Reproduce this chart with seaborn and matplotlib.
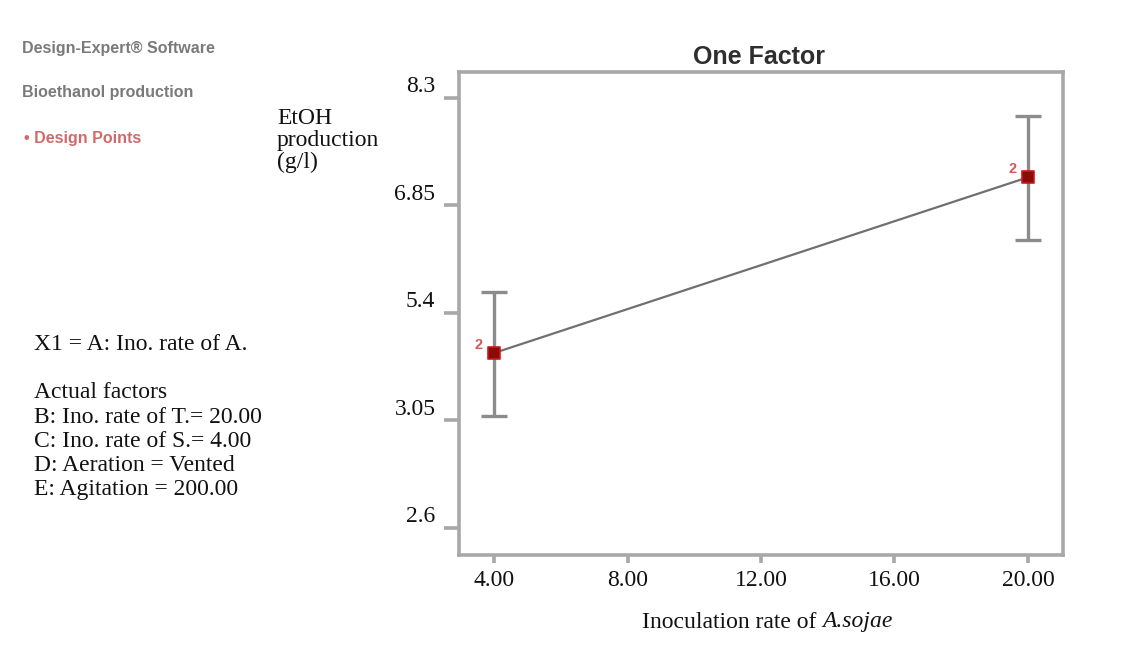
import matplotlib
matplotlib.use("Agg")
import matplotlib.pyplot as plt
import matplotlib.transforms as mtransforms
import seaborn as sns
import pandas as pd

# Inoculation rate of A. sojae and predicted EtOH production with LSD bars
rate = [4.0, 20.0]
etoh = [4.86, 7.23]
bar_low = [4.01, 6.38]
bar_high = [5.68, 8.06]
run_count = ["2", "2"]

x_ticks = [4.0, 8.0, 12.0, 16.0, 20.0]
x_tick_labels = ["4.00", "8.00", "12.00", "16.00", "20.00"]
y_ticks = [8.3, 6.85, 5.4, 3.95, 2.5]
y_tick_labels = ["8.3", "6.85", "5.4", "3.05", "2.6"]

factor_notes = [
    "X1 = A: Ino. rate of A.",
    "",
    "Actual factors",
    "B: Ino. rate of T.= 20.00",
    "C: Ino. rate of S.= 4.00",
    "D: Aeration = Vented",
    "E: Agitation = 200.00",
]

sns.set_theme(style="white")
serif = ["Liberation Serif", "DejaVu Serif"]
sans = ["Liberation Sans", "DejaVu Sans"]
plt.rcParams["font.family"] = serif

W, H = 1140, 665
df = pd.DataFrame({"rate": rate, "etoh": etoh})

fig = plt.figure(figsize=(W / 100, H / 100), dpi=100)
ax = fig.add_axes([459 / W, 1 - 555 / H, (1063 - 459) / W, (555 - 72) / H])

spine_grey = "#a8a8a8"
sns.lineplot(data=df, x="rate", y="etoh", ax=ax, color="#707070",
             linewidth=1.6, zorder=2)

for xi, yi, lo, hi in zip(rate, etoh, bar_low, bar_high):
    ax.errorbar([xi], [yi], yerr=[[yi - lo], [hi - yi]], fmt="none",
                ecolor="#8c8c8c", elinewidth=2.4, capsize=9.5, capthick=2.4,
                zorder=3)

sns.scatterplot(data=df, x="rate", y="etoh", ax=ax, marker="s", s=75,
                color="#8b0a0a", edgecolor="#d01818", linewidth=1.2, zorder=4)

for xi, yi, n in zip(rate, etoh, run_count):
    ax.annotate(n, (xi, yi), xytext=(-11, 6), textcoords="offset points",
                ha="center", va="center", color="#d05a5a", fontsize=10.5,
                family=sans, fontweight="bold", zorder=5)

ax.set_xlim(2.95, 21.05)
ax.set_ylim(2.136, 8.65)
ax.set_xticks(x_ticks)
ax.set_xticklabels(x_tick_labels)
ax.set_yticks(y_ticks)
ax.set_yticklabels(y_tick_labels)

for s in ax.spines.values():
    s.set_color(spine_grey)
    s.set_linewidth(2.6)

ax.tick_params(axis="both", which="major", bottom=True, left=True,
               width=2.6, color=spine_grey, labelsize=17,
               labelcolor="#111111", direction="out")
ax.tick_params(axis="y", length=11, pad=6)
ax.tick_params(axis="x", length=6, pad=5)

# y labels sit a little above their tick marks
lift = mtransforms.ScaledTranslation(0, 10 / 72, fig.dpi_scale_trans)
for lab in ax.get_yticklabels():
    lab.set_transform(lab.get_transform() + lift)

ax.set_xlabel("")
ax.set_ylabel("")

fig.text(759 / W, 1 - 57 / H, "One Factor", ha="center", va="center",
         fontsize=18, fontweight="bold", color="#2e2e2e", family=sans)

# x-axis caption with the species name in italics
renderer = fig.canvas.get_renderer()
cap_y = 1 - 622 / H
part1 = fig.text(0, cap_y, "Inoculation rate of ", ha="left", va="center",
                 fontsize=17, color="#111111")
part2 = fig.text(0, cap_y, "A.sojae", ha="left", va="center", fontsize=17,
                 color="#111111", style="italic")
w1 = part1.get_window_extent(renderer).width
w2 = part2.get_window_extent(renderer).width
x0 = 767 - (w1 + w2) / 2
part1.set_x(x0 / W)
part2.set_x((x0 + w1) / W)

fig.text(277 / W, 1 - 108 / H, "EtOH\nproduction\n(g/l)", ha="left",
         va="top", fontsize=17, color="#111111", linespacing=1.07)

fig.text(22 / W, 1 - 48 / H, "Design-Expert® Software", ha="left",
         va="center", fontsize=11.5, color="#7a7a7a", family=sans,
         fontweight="bold")
fig.text(22 / W, 1 - 93 / H, "Bioethanol production", ha="left",
         va="center", fontsize=11.5, color="#7a7a7a", family=sans,
         fontweight="bold")
fig.text(24 / W, 1 - 138 / H, "\u2022 Design Points", ha="left",
         va="center", fontsize=11.5, color="#d06a6a", family=sans,
         fontweight="bold")

fig.text(34 / W, 1 - 334 / H, "\n".join(factor_notes), ha="left",
         va="top", fontsize=17, color="#111111", linespacing=1.2)

fig.savefig("out.png", dpi=100, facecolor="white")
